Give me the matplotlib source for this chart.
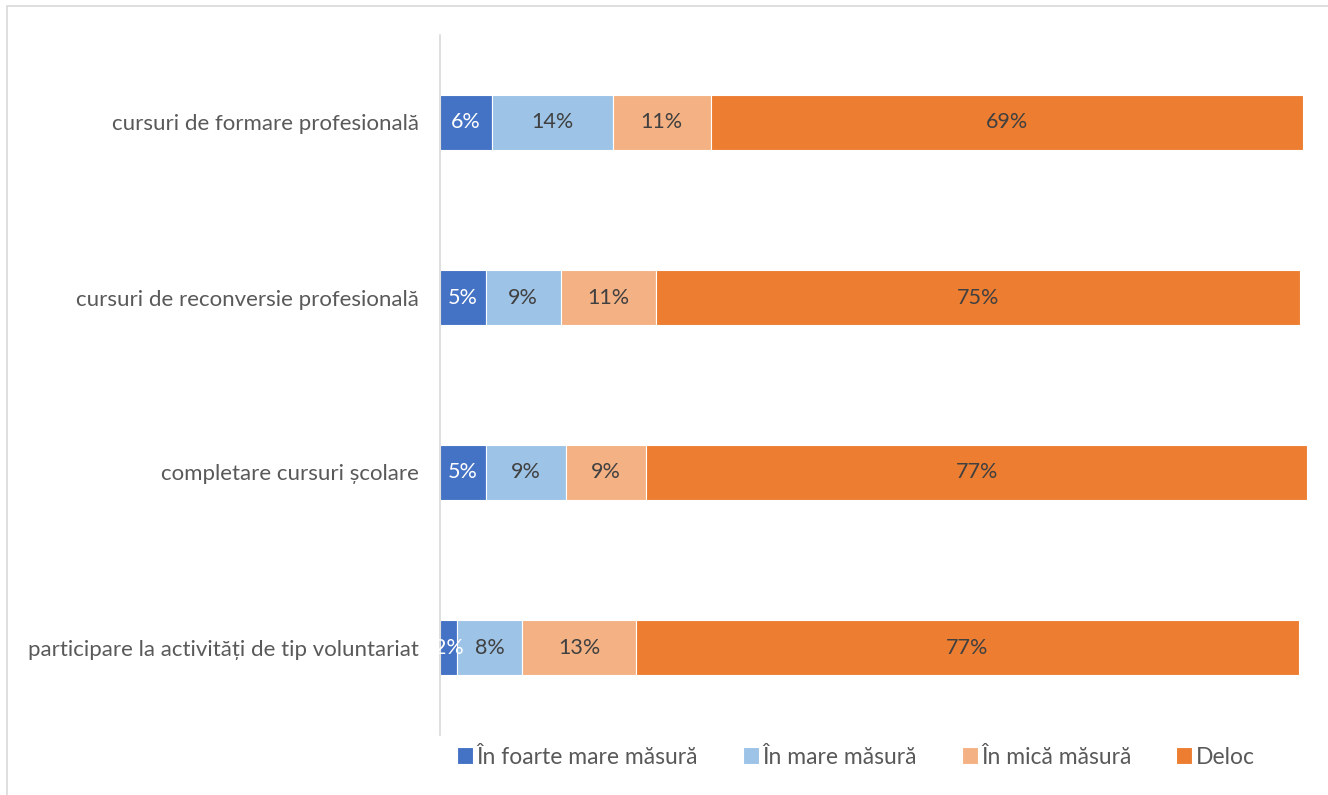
import matplotlib
matplotlib.use("Agg")
import matplotlib.pyplot as plt
from matplotlib.patches import Rectangle

categories = [
    "cursuri de formare profesională",
    "cursuri de reconversie profesională",
    "completare cursuri școlare",
    "participare la activități de tip voluntariat",
]
series_names = ["În foarte mare măsură", "În mare măsură", "În mică măsură", "Deloc"]
foarte_mare = [6.0, 5.3, 5.3, 2.0]
mare = [14.0, 8.7, 9.3, 7.5]
mica = [11.4, 11.0, 9.3, 13.2]
deloc = [68.6, 74.6, 76.6, 76.8]
colors = ["#4472C4", "#9DC3E6", "#F4B183", "#ED7D31"]
label_colors = ["white", "#404040", "#404040", "#404040"]

plt.rcParams['font.family'] = ['Lato', 'DejaVu Sans']

W, H = 1328, 795
fig = plt.figure(figsize=(W / 100, H / 100), dpi=100)
ax = fig.add_axes([440 / W, 1 - 735 / H, (1310 - 440) / W, (735 - 35) / H])

series = [foarte_mare, mare, mica, deloc]
y = list(range(len(categories)))
left = [0.0] * len(categories)
for vals, name, col, lc in zip(series, series_names, colors, label_colors):
    ax.barh(y, vals, left=left, height=0.315, color=col, edgecolor="white",
            linewidth=0.8, label=name)
    for yi, v, l in zip(y, vals, left):
        ax.text(l + v / 2, yi, f"{v:.0f}%", ha="center", va="center",
                fontsize=15.5, color=lc)
    left = [a + b for a, b in zip(left, vals)]

ax.set_xlim(0, 100 * 870 / 863)
ax.set_ylim(len(categories) - 0.5, -0.5)
ax.set_yticks(y)
ax.set_yticklabels(categories, fontsize=16, color="#595959")
ax.tick_params(axis="y", length=0, pad=15)
ax.set_xticks([])
for s in ["top", "right", "bottom"]:
    ax.spines[s].set_visible(False)
ax.spines["left"].set_color("#D9D9D9")
ax.spines["left"].set_linewidth(1.2)

leg = fig.legend(loc="center", bbox_to_anchor=(856 / W, 1 - 757 / H), ncol=4,
                 frameon=False, fontsize=16.5, handlelength=0.7, handleheight=0.7,
                 handletextpad=0.15, columnspacing=1.95)
for t in leg.get_texts():
    t.set_color("#595959")

fig.patches.append(Rectangle((7 / W, -0.05), 1.1, 1 - 6 / H + 0.05, transform=fig.transFigure,
                             fill=False, edgecolor="#D9D9D9", linewidth=1.2))

fig.savefig("out.png", dpi=100, facecolor="white")
